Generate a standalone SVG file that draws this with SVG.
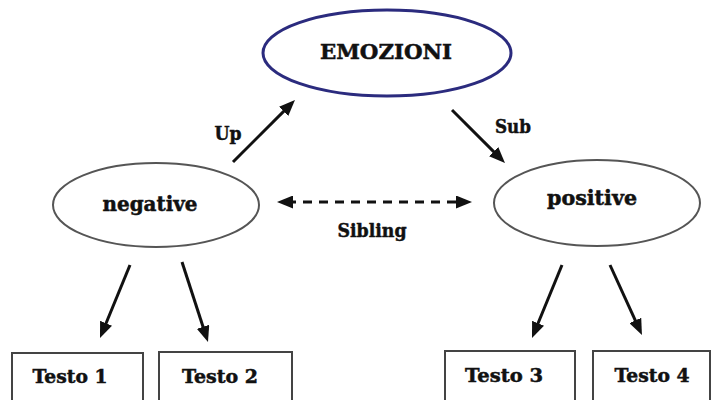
<svg xmlns="http://www.w3.org/2000/svg" width="712" height="400" viewBox="0 0 712 400">
  <style>
    .lbl { font-family: "DejaVu Serif", "Liberation Serif", serif; font-weight: bold; fill: #111; stroke: #111; stroke-width: 0.5; }
    .oval { fill: #fff; stroke: #555; stroke-width: 2; }
    .root { fill: #fff; stroke: #2b2b7e; stroke-width: 3; }
    .box { fill: #fff; stroke: #444; stroke-width: 2; }
    .edge { stroke: #111; stroke-width: 3; fill: none; }
    .dash { stroke-dasharray: 9 7; }
  </style>
  <defs>
    <marker id="head" viewBox="0 0 16 13" refX="6" refY="6.5" markerWidth="16" markerHeight="13" markerUnits="userSpaceOnUse" orient="auto-start-reverse">
      <path d="M0,0 L16,6.5 L0,13 z" fill="#111"/>
    </marker>
  </defs>

  <rect width="712" height="400" fill="#fff"/>

  <!-- connectors -->
  <g id="connectors">
    <line class="edge" x1="233" y1="162" x2="287.9" y2="107.1" marker-end="url(#head)"/>
    <line class="edge" x1="452" y1="110" x2="497.9" y2="155.9" marker-end="url(#head)"/>
    <line class="edge dash" x1="287" y1="202" x2="462" y2="202" marker-start="url(#head)" marker-end="url(#head)"/>
    <line class="edge" x1="130" y1="265" x2="103.8" y2="328.8" marker-end="url(#head)"/>
    <line class="edge" x1="182" y1="262" x2="204.9" y2="332.5" marker-end="url(#head)"/>
    <line class="edge" x1="562" y1="265" x2="535.8" y2="328.8" marker-end="url(#head)"/>
    <line class="edge" x1="610" y1="265" x2="637.8" y2="325.9" marker-end="url(#head)"/>
    <text class="lbl" x="228" y="140" font-size="19" text-anchor="middle" textLength="27" lengthAdjust="spacingAndGlyphs">Up</text>
    <text class="lbl" x="513" y="133" font-size="19" text-anchor="middle" textLength="36" lengthAdjust="spacingAndGlyphs">Sub</text>
    <text class="lbl" x="372" y="237" font-size="19" text-anchor="middle" textLength="69" lengthAdjust="spacingAndGlyphs">Sibling</text>
  </g>

  <g id="emozioni">
    <ellipse class="root" cx="387" cy="53" rx="124" ry="43"/>
    <text class="lbl" x="386" y="59" font-size="20" text-anchor="middle" textLength="132" lengthAdjust="spacingAndGlyphs">EMOZIONI</text>
  </g>

  <g id="negative">
    <ellipse class="oval" cx="156" cy="205" rx="103" ry="42"/>
    <text class="lbl" x="150" y="211" font-size="20" text-anchor="middle" textLength="95" lengthAdjust="spacingAndGlyphs">negative</text>
  </g>

  <g id="positive">
    <ellipse class="oval" cx="597" cy="203" rx="103" ry="43"/>
    <text class="lbl" x="592" y="205" font-size="20" text-anchor="middle" textLength="90" lengthAdjust="spacingAndGlyphs">positive</text>
  </g>

  <g id="testo1">
    <rect class="box" x="12" y="353" width="131" height="60"/>
    <text class="lbl" x="70" y="383" font-size="19" text-anchor="middle" textLength="75" lengthAdjust="spacingAndGlyphs">Testo 1</text>
  </g>
  <g id="testo2">
    <rect class="box" x="159" y="352" width="133" height="60"/>
    <text class="lbl" x="220" y="383" font-size="19" text-anchor="middle" textLength="76" lengthAdjust="spacingAndGlyphs">Testo 2</text>
  </g>
  <g id="testo3">
    <rect class="box" x="445" y="351" width="130" height="60"/>
    <text class="lbl" x="504" y="382" font-size="19" text-anchor="middle" textLength="78" lengthAdjust="spacingAndGlyphs">Testo 3</text>
  </g>
  <g id="testo4">
    <rect class="box" x="593" y="351" width="117" height="60"/>
    <text class="lbl" x="652" y="382" font-size="19" text-anchor="middle" textLength="75" lengthAdjust="spacingAndGlyphs">Testo 4</text>
  </g>
</svg>
